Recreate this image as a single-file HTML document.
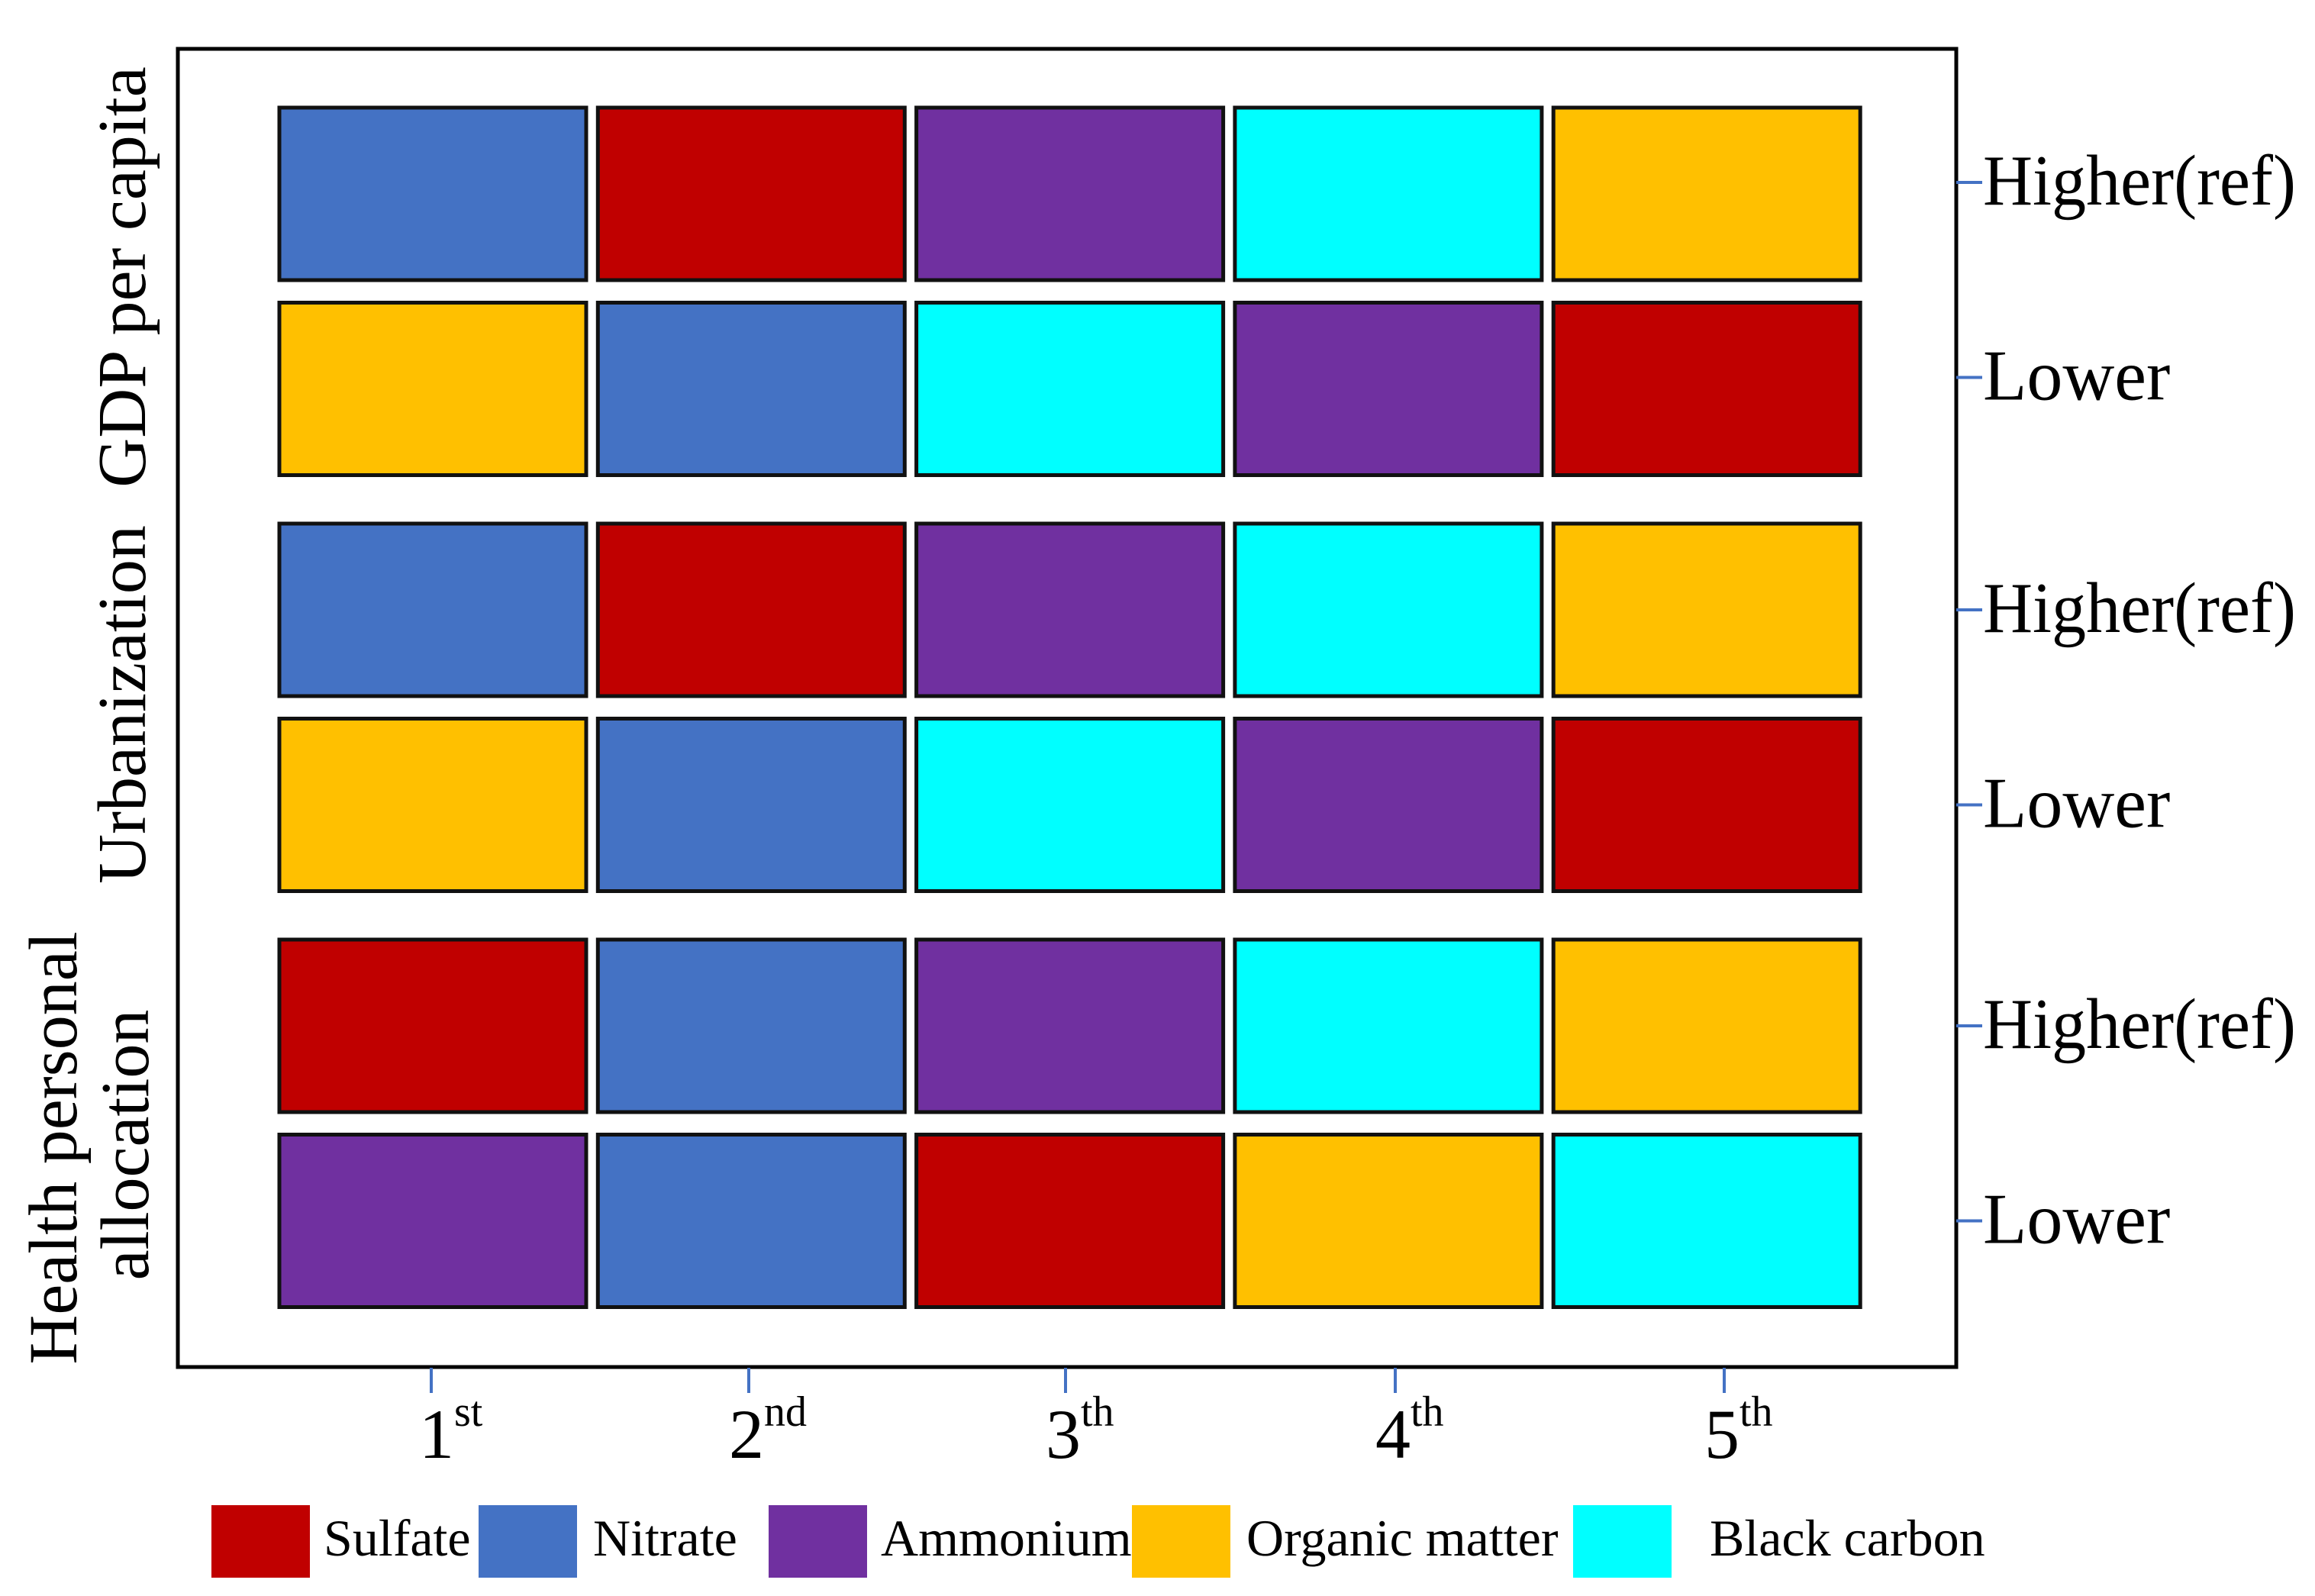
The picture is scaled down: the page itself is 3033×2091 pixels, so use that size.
<!DOCTYPE html>
<html><head><meta charset="utf-8"><style>
html,body{margin:0;padding:0;background:#fff;}
svg{display:block;font-family:"Liberation Serif",serif;}
</style></head>
<body>
<svg id="chart" xmlns="http://www.w3.org/2000/svg" width="3033" height="2091" viewBox="0 0 3033 2091">
<rect x="0" y="0" width="3033" height="2091" fill="#fff"/>
<rect x="233" y="64" width="2330" height="1727" fill="none" stroke="#000" stroke-width="5"/>
<g id="cells"></g>
<g id="yaxis"></g>
<g id="xaxis"></g>
<g id="legend"></g>
<g font-size="90" fill="#000">
<text transform="translate(190,363) rotate(-90)" text-anchor="middle">GDP per capita</text>
<text transform="translate(190,923) rotate(-90)" text-anchor="middle">Urbanization</text>
<text transform="translate(100,1504) rotate(-90)" text-anchor="middle">Health personal</text>
<text transform="translate(194,1500) rotate(-90)" text-anchor="middle">allocation</text>
</g>
</svg>
<script>
const components = ["Sulfate","Nitrate","Ammonium","Organic matter","Black carbon"];
const componentColors = ["#C00000","#4472C4","#7030A0","#FFC000","#00FFFF"];
const rankLabels = ["1","2","3","4","5"];
const rankSuffix = ["st","nd","th","th","th"];
const rowLabels = ["Higher(ref)","Lower","Higher(ref)","Lower","Higher(ref)","Lower"];
// component index at each rank (S=0,N=1,A=2,OM=3,BC=4)
const gdpHigher = [1,0,2,4,3];
const gdpLower = [3,1,4,2,0];
const urbHigher = [1,0,2,4,3];
const urbLower = [3,1,4,2,0];
const healthHigher = [0,1,2,4,3];
const healthLower = [2,1,0,3,4];
const rows = [gdpHigher,gdpLower,urbHigher,urbLower,healthHigher,healthLower];

const NS="http://www.w3.org/2000/svg";
function mk(tag, attrs, parent){const e=document.createElementNS(NS,tag);for(const k in attrs)e.setAttribute(k,attrs[k]);parent.appendChild(e);return e;}
// axis functions
const colX = i => 366 + i*417.3;
const colW = 402;
const rowY = r => 141 + Math.floor(r/2)*545 + (r%2)*255.5;
const rowH = 226;
const tickOffsets = [0,416,831,1263,1694];
const tickX = i => 565 + tickOffsets[i];

const cells=document.getElementById('cells');
rows.forEach((row,r)=>{
  row.forEach((c,i)=>{
    const e=mk('rect',{x:colX(i),y:rowY(r),width:colW,height:rowH,fill:componentColors[c],stroke:'#111','stroke-width':5},cells);
    
    
  });
});
const yaxis=document.getElementById('yaxis');
rowLabels.forEach((lab,r)=>{
  const ty=rowY(r)+rowH/2-(r<2?15:0);
  const t=mk('line',{x1:2563,x2:2597,y1:ty,y2:ty,stroke:'#4472C4','stroke-width':4},yaxis);
  
  
  const attrs={x:2598,y:ty+29,'font-size':94,fill:'#000'};
  if(lab.length>6){attrs.textLength=410;attrs.lengthAdjust='spacingAndGlyphs';}
  const tx=mk('text',attrs,yaxis);
  tx.textContent=lab;
  
  
});
const xaxis=document.getElementById('xaxis');
rankLabels.forEach((lab,i)=>{
  const x=tickX(i);
  const t=mk('line',{x1:x,x2:x,y1:1792,y2:1825,stroke:'#4472C4','stroke-width':4},xaxis);
  
  
  const tx=mk('text',{x:x-(i==0?16:26),y:1910,'font-size':92,fill:'#000'},xaxis);
  
  
  tx.appendChild(document.createTextNode(lab));
  const sup=mk('tspan',{'font-size':56,dy:-42},tx);
  sup.textContent=rankSuffix[i];
});
const legend=document.getElementById('legend');
const legBoxX=[277,627,1007,1483,2061];
const legTextX=[424,777,1154,1633,2240];
components.forEach((name,i)=>{
  const b=mk('rect',{x:legBoxX[i],y:1972,width:129,height:95,fill:componentColors[i]},legend);
  
  
  const t=mk('text',{x:legTextX[i],y:2038,'font-size':68,fill:'#000'},legend);
  t.textContent=name;
  
  
});
</script>
</body></html>
